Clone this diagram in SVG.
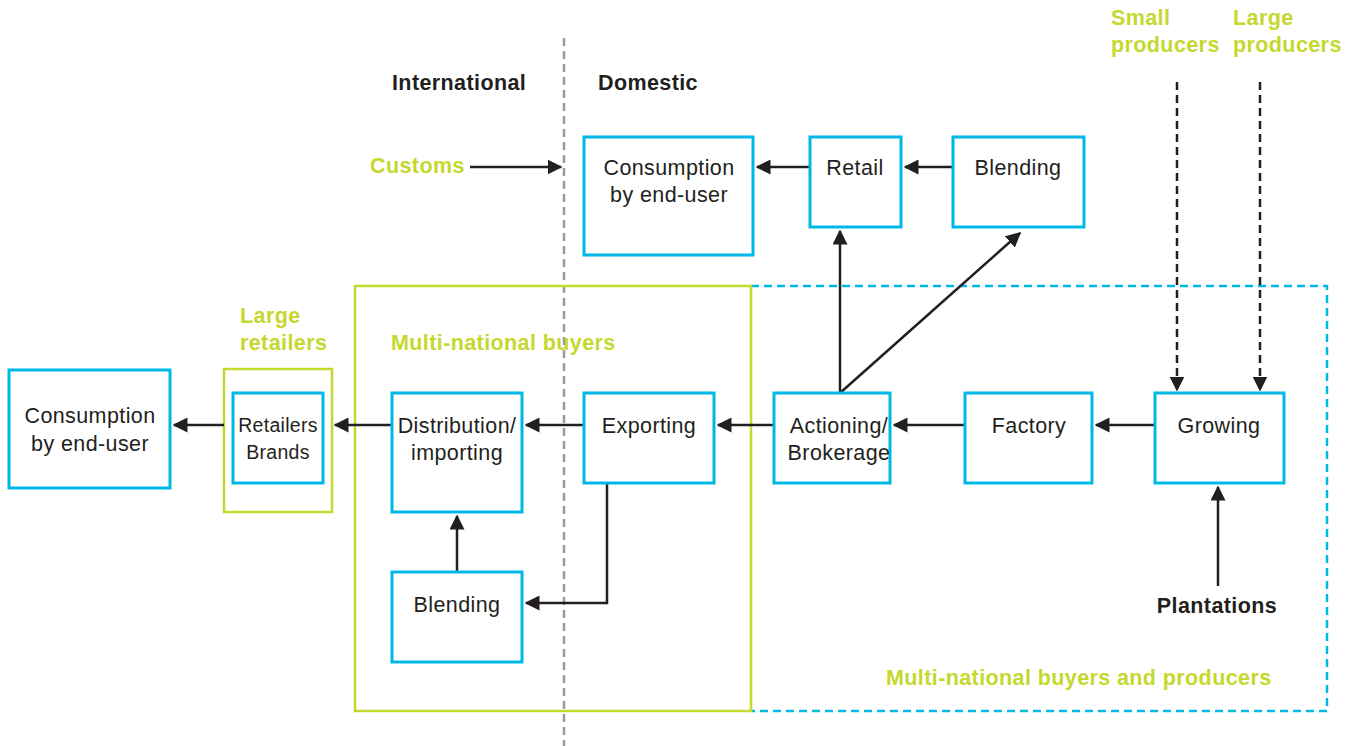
<svg xmlns="http://www.w3.org/2000/svg" width="1359" height="746" viewBox="0 0 1359 746">
<defs>
<style>
.box{fill:none;stroke:#00B8E6;stroke-width:3}
.gbox{fill:none;stroke:#C4D82E;stroke-width:2.5}
.t{font-family:"Liberation Sans",Arial,sans-serif;font-size:21.5px;letter-spacing:0.4px;fill:#231F20;text-anchor:middle}
.b{font-family:"Liberation Sans",Arial,sans-serif;font-size:21.5px;letter-spacing:0.4px;font-weight:bold;fill:#231F20}
.g{font-family:"Liberation Sans",Arial,sans-serif;font-size:21.5px;letter-spacing:0.4px;font-weight:bold;fill:#C4D82E}
.c{fill:none;stroke:#231F20;stroke-width:2.5}
.d{fill:none;stroke:#231F20;stroke-width:2.5;stroke-dasharray:8 5}
</style>
<marker id="ah" viewBox="0 0 10 10" refX="9" refY="5" markerWidth="6" markerHeight="6" markerUnits="strokeWidth" orient="auto">
<path d="M0,0 L10,5 L0,10 z" fill="#231F20"/>
</marker>
</defs>
<rect width="1359" height="746" fill="#fff"/>

<g id="regions">
<line x1="564" y1="38" x2="564" y2="746" stroke="#9A9A9A" stroke-width="2.5" stroke-dasharray="8 5"/>
<polyline points="751,286 1327,286 1327,711 751,711" fill="none" stroke="#00B8E6" stroke-width="2.5" stroke-dasharray="8 5"/>
<rect id="multinational-buyers" class="gbox" x="355" y="286" width="396" height="425"/>
<rect id="large-retailers" class="gbox" x="224" y="369" width="108" height="143"/>
</g>

<g id="labels">
<text class="b" x="392" y="90">International</text>
<text class="b" x="598" y="90">Domestic</text>
<text class="g" x="370" y="173">Customs</text>
<text class="g" x="1111" y="25">Small</text>
<text class="g" x="1111" y="52">producers</text>
<text class="g" x="1233" y="25">Large</text>
<text class="g" x="1233" y="52">producers</text>
<text class="g" x="240" y="323">Large</text>
<text class="g" x="240" y="350">retailers</text>
<text class="g" x="391" y="350">Multi-national buyers</text>
<text class="g" x="886" y="685">Multi-national buyers and producers</text>
<text class="b" x="1217" y="613" text-anchor="middle">Plantations</text>
</g>

<g id="connectors">
<line class="c" x1="470" y1="167" x2="561" y2="167" marker-end="url(#ah)"/>
<line class="d" x1="1177" y1="82" x2="1177" y2="390" marker-end="url(#ah)"/>
<line class="d" x1="1260" y1="82" x2="1260" y2="390" marker-end="url(#ah)"/>
<line class="c" x1="1218" y1="586" x2="1218" y2="487" marker-end="url(#ah)"/>
<line class="c" x1="1155" y1="425" x2="1096" y2="425" marker-end="url(#ah)"/>
<line class="c" x1="965" y1="425" x2="894" y2="425" marker-end="url(#ah)"/>
<line class="c" x1="774" y1="425" x2="718" y2="425" marker-end="url(#ah)"/>
<line class="c" x1="584" y1="425" x2="526" y2="425" marker-end="url(#ah)"/>
<line class="c" x1="392" y1="425" x2="335" y2="425" marker-end="url(#ah)"/>
<line class="c" x1="224" y1="425" x2="174" y2="425" marker-end="url(#ah)"/>
<polyline class="c" points="607,483 607,603 526,603" marker-end="url(#ah)"/>
<line class="c" x1="457" y1="572" x2="457" y2="516" marker-end="url(#ah)"/>
<line class="c" x1="840" y1="393" x2="840" y2="231" marker-end="url(#ah)"/>
<polyline class="c" points="840,393 1020,233" marker-end="url(#ah)"/>
<line class="c" x1="953" y1="167" x2="905" y2="167" marker-end="url(#ah)"/>
<line class="c" x1="810" y1="167" x2="757" y2="167" marker-end="url(#ah)"/>
</g>

<g id="consumption-left">
<rect class="box" x="9" y="370" width="161" height="118"/>
<text class="t" x="90" y="423">Consumption</text>
<text class="t" x="90" y="451">by end-user</text>
</g>
<g id="retailers-brands">
<rect class="box" x="233" y="393" width="90" height="90"/>
<text class="t" x="278" y="432" style="font-size:19.5px;letter-spacing:0.3px">Retailers</text>
<text class="t" x="278" y="459" style="font-size:19.5px;letter-spacing:0.3px">Brands</text>
</g>
<g id="distribution">
<rect class="box" x="392" y="393" width="130" height="119"/>
<text class="t" x="457" y="433">Distribution/</text>
<text class="t" x="457" y="460">importing</text>
</g>
<g id="exporting">
<rect class="box" x="584" y="393" width="130" height="90"/>
<text class="t" x="649" y="433">Exporting</text>
</g>
<g id="blending-intl">
<rect class="box" x="392" y="572" width="130" height="90"/>
<text class="t" x="457" y="612">Blending</text>
</g>
<g id="actioning">
<rect class="box" x="774" y="393" width="116" height="90"/>
<text class="t" x="839" y="433">Actioning/</text>
<text class="t" x="839" y="460">Brokerage</text>
</g>
<g id="factory">
<rect class="box" x="965" y="393" width="127" height="90"/>
<text class="t" x="1029" y="433">Factory</text>
</g>
<g id="growing">
<rect class="box" x="1155" y="393" width="129" height="90"/>
<text class="t" x="1219" y="433">Growing</text>
</g>
<g id="consumption-domestic">
<rect class="box" x="584" y="137" width="169" height="118"/>
<text class="t" x="669" y="175">Consumption</text>
<text class="t" x="669" y="202">by end-user</text>
</g>
<g id="retail">
<rect class="box" x="810" y="137" width="91" height="90"/>
<text class="t" x="855" y="175">Retail</text>
</g>
<g id="blending-domestic">
<rect class="box" x="953" y="137" width="131" height="90"/>
<text class="t" x="1018" y="175">Blending</text>
</g>
</svg>
